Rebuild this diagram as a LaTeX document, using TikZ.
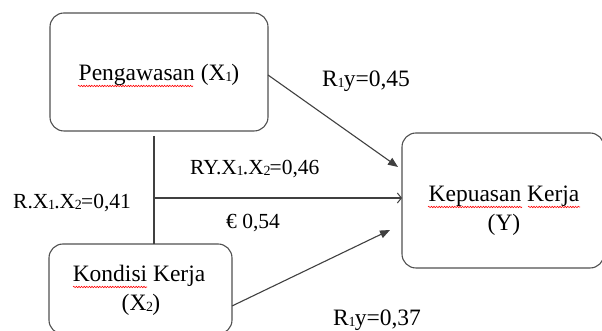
\documentclass[tikz,border=0pt]{standalone}
\usepackage{fontspec}
\setmainfont{Liberation Serif}
\usetikzlibrary{arrows.meta,decorations.pathmorphing}
\definecolor{boxgray}{HTML}{505050}
\definecolor{linegray}{HTML}{404040}
\newcommand\lsub[1]{\kern-0.3pt\raisebox{-1.2pt}{\fontsize{14}{14}\selectfont #1}\kern-0.8pt}
\begin{document}
\begin{tikzpicture}[x=1pt,y=1pt,
  box/.style={draw=boxgray, line width=1.1pt, rounded corners=14pt, inner sep=0pt},
  conn/.style={draw=linegray, line width=1.1pt},
  lbl/.style={font=\fontsize{21.5}{26}\selectfont, inner sep=0pt, anchor=west},
  biglbl/.style={lbl, font=\fontsize{23.5}{28}\selectfont},
  btxt/.style={font=\fontsize{23.5}{28}\selectfont, inner sep=0pt},
  wave/.style={draw=red, line width=0.6pt, decorate, decoration={snake, amplitude=0.7pt, segment length=2.6pt}},
  tip/.style={-{Triangle[length=10pt,width=8pt]}},
  opentip/.style={-{Straight Barb[length=4pt,width=10pt,line width=1pt]}},
]
\useasboundingbox (0,0) rectangle (602,331);
\clip (0,0) rectangle (602,331);
% boxes
\node[box, minimum width=218pt, minimum height=118pt] (P) at (159,259) {};
\node[box, minimum width=202pt, minimum height=135pt] (Y) at (503,130.5) {};
\node[box, minimum width=183pt, minimum height=90pt] (K) at (140.5,42) {};
% box texts
\node[btxt] (tP) at (159,256) {Pengawasan (X\lsub{1})};
\node[btxt] (tY1) at (504,135) {Kepuasan Kerja};
\node[btxt] (tY2) at (504,106) {(Y)};
\node[btxt] (tK1) at (139,55) {Kondisi Kerja};
\node[btxt] (tK2) at (141,26) {(X\lsub{2})};
% spell-check waves
\draw[wave] (78,245) -- (193,245);
\draw[wave] (73,44) -- (147,44);
\draw[wave] (428,124) -- (522,124);
\draw[wave] (528,124) -- (580,124);
% connector endpoints
\coordinate (a1s) at (268,256);
\coordinate (a1e) at (398,164);
\coordinate (vtop) at (154,195);
\coordinate (vbot) at (154,87);
\coordinate (hs) at (154,133);
\coordinate (he) at (402,133);
\coordinate (a2s) at (232,25);
\coordinate (a2e) at (390,101);
\draw[conn,tip] (a1s) -- (a1e);
\draw[conn] (vtop) -- (vbot);
\draw[conn,opentip] (hs) -- (he);
\draw[conn,tip] (a2s) -- (a2e);
% labels
\node[biglbl] (l1) at (322,250) {R\lsub{1}y=0,45};
\node[lbl] (l2) at (190,162) {RY.X\lsub{1}.X\lsub{2}=0,46};
\node[lbl] (l3) at (226,108) {€ 0,54};
\node[lbl] (l4) at (13,128) {R.X\lsub{1}.X\lsub{2}=0,41};
\node[biglbl] (l5) at (333,11) {R\lsub{1}y=0,37};
\end{tikzpicture}
\end{document}
